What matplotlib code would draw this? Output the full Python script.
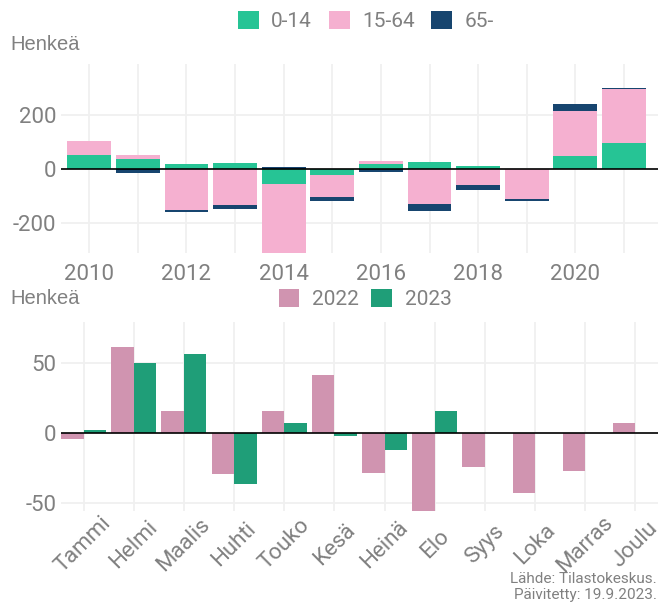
import matplotlib.pyplot as plt
import numpy as np

# vuosittainen muutos ikaryhmittain
years = [2010, 2011, 2012, 2013, 2014, 2015, 2016, 2017, 2018, 2019, 2020, 2021]
age_0_14 = [52, 37, 18, 22, -56, -21, 18, 26, 11, 2, 48, 96]
age_15_64 = [52, 15, -152, -133, -256, -83, 11, -130, -59, -111, 167, 199]
age_65 = [0, -15, -7, -15, 7, -13, -10, -25, -18, -6, 26, 5]

# kuukausittainen muutos
months = ['Tammi', 'Helmi', 'Maalis', 'Huhti', 'Touko', 'Kesä', 'Heinä', 'Elo',
          'Syys', 'Loka', 'Marras', 'Joulu']
y2022 = [-4, 61.5, 16, -29, 16, 41.5, -28.5, -55.5, -24, -42.5, -27, 7]
y2023 = [2, 49.5, 56.5, -36, 7, -2, -12, 15.5]

grey = '#808080'
gridc = '#f0f0f0'
plt.rcParams['font.family'] = ['Roboto', 'DejaVu Sans']
plt.rcParams['axes.unicode_minus'] = False

W, H = 659, 606
fig = plt.figure(figsize=(W / 100, H / 100), dpi=100)


def box(l, t, r, b):
    return [l / W, 1 - b / H, (r - l) / W, (b - t) / H]


def style(ax):
    for s in ax.spines.values():
        s.set_visible(False)
    ax.tick_params(length=0, colors=grey, labelsize=16)
    ax.grid(True, color=gridc, lw=1.3)
    ax.set_axisbelow(True)


# --- ylempi kuva ---
ax1 = fig.add_axes(box(61, 64, 658, 253))
style(ax1)
cols = {'0-14': '#26c495', '15-64': '#f5b0d0', '65-': '#17456f'}
series = [('0-14', age_0_14), ('15-64', age_15_64), ('65-', age_65)]
pos = np.zeros(len(years))
neg = np.zeros(len(years))
for name, vals in series:
    vals = np.array(vals, dtype=float)
    base = np.where(vals >= 0, pos, neg)
    ax1.bar(years, vals, 0.9, bottom=base, color=cols[name], label=name, zorder=2)
    pos = pos + np.clip(vals, 0, None)
    neg = neg + np.clip(vals, None, 0)
ax1.axhline(0, color='black', lw=1.4, zorder=3, alpha=0.85)
ax1.set_ylim(-310, 389)
ax1.set_xlim(2009.42, 2021.7)
ax1.set_yticks([-200, 0, 200])
ax1.set_xticks(range(2010, 2022, 2))
ax1.set_xticks(range(2011, 2022, 2), minor=True)
ax1.grid(True, which='minor', axis='x', color=gridc, lw=1.3)
ax1.tick_params(which='minor', length=0)
ax1.tick_params(axis='x', pad=8)
ax1.legend(loc='center', bbox_to_anchor=(366 / W, 1 - 21 / H), bbox_transform=fig.transFigure,
           ncol=3, frameon=False, fontsize=15, labelcolor=grey, handlelength=1.0,
           handleheight=1.0, columnspacing=0.8, handletextpad=0.6)
fig.text(10 / W, 1 - 45 / H, 'Henkeä', color=grey, fontsize=14.5, va='center',
         family=['Liberation Sans', 'DejaVu Sans'])

# --- alempi kuva ---
ax2 = fig.add_axes(box(61, 322, 658, 511))
style(ax2)
x = np.arange(1, 13)
ax2.bar(x - 0.225, y2022, 0.45, color='#d094b0', label='2022', zorder=2)
ax2.bar(x[:len(y2023)] + 0.225, y2023, 0.45, color='#1f9e78', label='2023', zorder=2)
ax2.axhline(0, color='black', lw=1.4, zorder=3, alpha=0.85)
ax2.set_ylim(-55.5, 79)
ax2.set_xlim(0.55, 12.45)
ax2.set_yticks([-50, 0, 50])
ax2.set_xticks(x)
ax2.set_xticklabels(months, rotation=45, ha='center', va='center', rotation_mode='anchor')
ax2.tick_params(axis='x', pad=24)
ax2.legend(loc='center', bbox_to_anchor=(365 / W, 1 - 299 / H), bbox_transform=fig.transFigure,
           ncol=2, frameon=False, fontsize=15, labelcolor=grey, handlelength=1.0,
           handleheight=1.0, columnspacing=0.6, handletextpad=0.6)
fig.text(10 / W, 1 - 299 / H, 'Henkeä', color=grey, fontsize=14.5, va='center',
         family=['Liberation Sans', 'DejaVu Sans'])

fig.text(657 / W, 1 - 579 / H, 'Lähde: Tilastokeskus.', color=grey, fontsize=11,
         ha='right', va='center')
fig.text(657 / W, 1 - 595 / H, 'Päivitetty: 19.9.2023.', color=grey, fontsize=11,
         ha='right', va='center')

fig.savefig('out.png', dpi=100)
